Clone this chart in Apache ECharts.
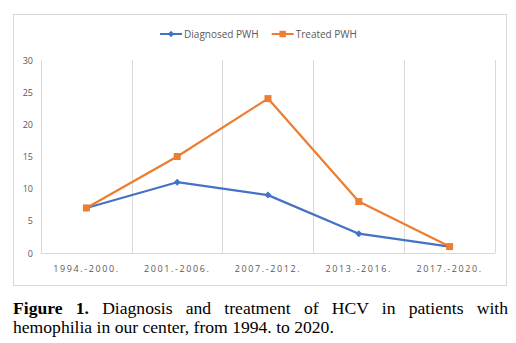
<!DOCTYPE html>
<html>
<head>
<meta charset="utf-8">
<script src="https://cdn.jsdelivr.net/npm/echarts@6/dist/echarts.min.js"></script>
<style>
  html, body { margin: 0; padding: 0; background: #fff; }
  #wrap { position: relative; width: 516px; height: 343px; overflow: hidden; }
  #chart { position: absolute; left: 0; top: 0; width: 516px; height: 343px; }
  #frame { position: absolute; left: 13px; top: 14px; width: 494px; height: 272px; border: 1px solid #D9D9D9; box-sizing: border-box; }
  #caption { position: absolute; left: 13px; top: 299px; width: 495px; font-family: "Liberation Serif", "Times New Roman", serif; font-size: 17.6px; line-height: 19px; color: #000; }
  #caption .l1 { text-align: justify; text-align-last: justify; }
  text[style*="xlab"] { letter-spacing: 1.6px; }
</style>
</head>
<body>
<div id="wrap">
  <div id="frame"></div>
  <div id="chart"></div>
  <div id="caption">
    <div class="l1"><b>Figure 1.</b> Diagnosis and treatment of HCV in patients with</div>
    <div>hemophilia in our center, from 1994. to 2020.</div>
  </div>
</div>
<script>
const categories = ["1994.-2000.", "2001.-2006.", "2007.-2012.", "2013.-2016.", "2017.-2020."];
const diagnosedPWH = [7, 11, 9, 3, 1];
const treatedPWH = [7, 15, 24, 8, 1];
const yTicks = { min: 0, max: 30, interval: 5 };

const chart = echarts.init(document.getElementById('chart'), null, { renderer: 'svg' });
chart.setOption({
  animation: false,
  legend: {
    top: 24,
    left: 'center',
    itemWidth: 22,
    itemHeight: 8,
    itemGap: 12,
    textStyle: { color: '#595959', fontSize: 10, fontFamily: 'Open Sans', padding: [0, 0, 0, -3] },
    data: ['Diagnosed PWH', 'Treated PWH']
  },
  grid: { left: 41, right: 21, top: 60, bottom: 90, containLabel: false },
  xAxis: {
    type: 'category',
    data: categories,
    boundaryGap: true,
    axisLine: { lineStyle: { color: '#D9D9D9' } },
    axisTick: { show: false },
    splitLine: { show: true, interval: 0, lineStyle: { color: '#D9D9D9' } },
    axisLabel: { color: '#595959', fontSize: 9, fontFamily: "'Open Sans', xlab", margin: 11, interval: 0 }
  },
  yAxis: {
    type: 'value',
    min: yTicks.min, max: yTicks.max, interval: yTicks.interval,
    axisLine: { show: true, lineStyle: { color: '#D9D9D9' } },
    axisTick: { show: false },
    splitLine: { show: false },
    axisLabel: { color: '#595959', fontSize: 9, fontFamily: 'Open Sans', margin: 8 }
  },
  series: [
    {
      name: 'Diagnosed PWH',
      type: 'line',
      data: diagnosedPWH,
      symbol: 'diamond',
      symbolSize: 7,
      lineStyle: { color: '#4472C4', width: 2.25 },
      itemStyle: { color: '#4472C4' }
    },
    {
      name: 'Treated PWH',
      type: 'line',
      data: treatedPWH,
      symbol: 'rect',
      symbolSize: 7,
      lineStyle: { color: '#ED7D31', width: 2.25 },
      itemStyle: { color: '#ED7D31' }
    }
  ]
});
</script>
</body>
</html>
